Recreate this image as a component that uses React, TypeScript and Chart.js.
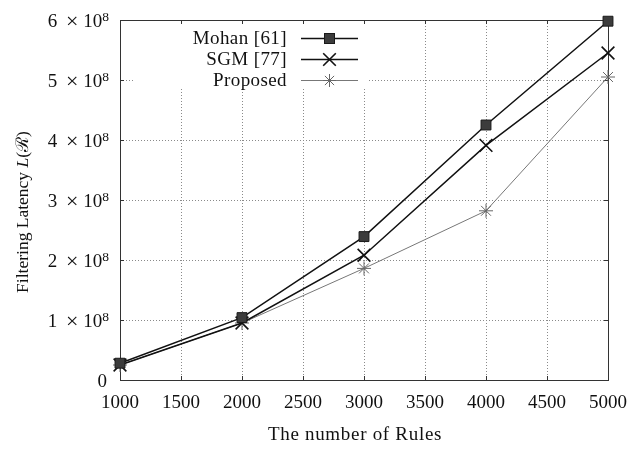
import React, { useEffect, useRef } from "react";
import { Chart, registerables } from "chart.js";

Chart.register(...registerables);

// Number of rules on the x axis
const ruleCounts = [1000, 2000, 3000, 4000, 5000];

// Filtering latency per method
const mohanLatency = [2.8e7, 1.04e8, 2.39e8, 4.25e8, 5.98e8];
const sgmLatency = [2.5e7, 9.5e7, 2.08e8, 3.91e8, 5.45e8];
const proposedLatency = [2.5e7, 9.5e7, 1.86e8, 2.82e8, 5.05e8];

const seriesNames = ["Mohan [61]", "SGM [77]", "Proposed"];

const xAxisTitle = "The number of Rules";
const yAxisTitleParts = ["Filtering Latency ", "L", "(", "\u211B", ")"];

const SERIF = '"Liberation Serif", "DejaVu Serif", serif';
const W = 631;
const H = 450;

type MarkerKind = "square" | "cross" | "star";

function drawMarker(ctx: CanvasRenderingContext2D, kind: MarkerKind, x: number, y: number) {
  ctx.save();
  if (kind === "square") {
    ctx.fillStyle = "#3c3c3c";
    ctx.strokeStyle = "#1a1a1a";
    ctx.lineWidth = 1;
    ctx.fillRect(x - 5, y - 5, 10, 10);
    ctx.strokeRect(x - 5, y - 5, 10, 10);
  } else if (kind === "cross") {
    ctx.strokeStyle = "#111";
    ctx.lineWidth = 1.6;
    const r = 6.3;
    ctx.beginPath();
    ctx.moveTo(x - r, y - r);
    ctx.lineTo(x + r, y + r);
    ctx.moveTo(x - r, y + r);
    ctx.lineTo(x + r, y - r);
    ctx.stroke();
  } else {
    ctx.strokeStyle = "#666";
    ctx.lineWidth = 1;
    const r = 6.5;
    ctx.beginPath();
    for (let i = 0; i < 4; i++) {
      const a = (i * Math.PI) / 4;
      ctx.moveTo(x - r * Math.cos(a), y - r * Math.sin(a));
      ctx.lineTo(x + r * Math.cos(a), y + r * Math.sin(a));
    }
    ctx.stroke();
  }
  ctx.restore();
}

const frame = {
  id: "frame",
  beforeDatasetsDraw(chart: any) {
    const { ctx, chartArea: a, scales } = chart;
    const xs = scales.x;
    const ys = scales.y;
    ctx.save();
    // dotted grid
    ctx.strokeStyle = "#8a8a8a";
    ctx.lineWidth = 1;
    ctx.setLineDash([1, 2]);
    ctx.beginPath();
    xs.ticks.forEach((t: any) => {
      const px = Math.round(xs.getPixelForValue(t.value)) + 0.5;
      ctx.moveTo(px, a.top);
      ctx.lineTo(px, a.bottom);
    });
    ys.ticks.forEach((t: any) => {
      const py = Math.round(ys.getPixelForValue(t.value)) + 0.5;
      ctx.moveTo(a.left, py);
      ctx.lineTo(a.right, py);
    });
    ctx.stroke();
    ctx.setLineDash([]);
    // legend background hides the grid behind it
    ctx.fillStyle = "#fff";
    ctx.fillRect(134, 23, 234, 66);
    // axis box
    ctx.strokeStyle = "#333";
    ctx.lineWidth = 1;
    ctx.strokeRect(Math.round(a.left) + 0.5, Math.round(a.top) + 0.5, Math.round(a.right - a.left), Math.round(a.bottom - a.top));
    // inward tick marks on all four sides
    const tl = 4;
    ctx.beginPath();
    xs.ticks.forEach((t: any) => {
      const px = Math.round(xs.getPixelForValue(t.value)) + 0.5;
      ctx.moveTo(px, a.bottom);
      ctx.lineTo(px, a.bottom - tl);
      ctx.moveTo(px, a.top);
      ctx.lineTo(px, a.top + tl);
    });
    ys.ticks.forEach((t: any) => {
      const py = Math.round(ys.getPixelForValue(t.value)) + 0.5;
      ctx.moveTo(a.left, py);
      ctx.lineTo(a.left + tl, py);
      ctx.moveTo(a.right, py);
      ctx.lineTo(a.right - tl, py);
    });
    ctx.stroke();
    ctx.restore();
  },
  afterDatasetsDraw(chart: any) {
    const { ctx } = chart;
    ctx.save();
    const kinds: MarkerKind[] = ["square", "cross", "star"];
    const lineColors = ["#111", "#111", "#777"];
    const lineWidths = [1.5, 1.5, 1];
    ctx.font = `19px ${SERIF}`;
    (ctx as any).letterSpacing = "0.4px";
    ctx.textAlign = "right";
    ctx.textBaseline = "alphabetic";
    seriesNames.forEach((name, i) => {
      const cy = 38 + i * 21;
      ctx.fillStyle = "#111";
      ctx.fillText(name, 287, cy + 6);
      ctx.strokeStyle = lineColors[i];
      ctx.lineWidth = lineWidths[i];
      ctx.beginPath();
      ctx.moveTo(301, cy + 0.5);
      ctx.lineTo(358, cy + 0.5);
      ctx.stroke();
      drawMarker(ctx, kinds[i], 329.5, cy + 0.5);
    });
    ctx.restore();
  },
  afterDraw(chart: any) {
    const { ctx, scales } = chart;
    const xs = scales.x;
    const ys = scales.y;
    ctx.save();
    ctx.fillStyle = "#111";
    ctx.textBaseline = "alphabetic";
    // x tick labels
    ctx.font = `19px ${SERIF}`;
    ctx.textAlign = "center";
    xs.ticks.forEach((t: any) => {
      ctx.fillText(String(t.value), xs.getPixelForValue(t.value), 408);
    });
    // y tick labels as m × 10^8
    const rightEdge = 109;
    ys.ticks.forEach((t: any) => {
      const py = ys.getPixelForValue(t.value);
      const base = py + 7;
      if (t.value === 0) {
        ctx.font = `19px ${SERIF}`;
        ctx.textAlign = "right";
        ctx.fillText("0", 107, base);
        return;
      }
      const m = Math.round(t.value / 1e8);
      ctx.font = `13.5px ${SERIF}`;
      ctx.textAlign = "right";
      const supW = ctx.measureText("8").width;
      ctx.fillText("8", rightEdge, py + 1);
      ctx.font = `19px ${SERIF}`;
      const tenRight = rightEdge - supW;
      ctx.fillText("10", tenRight, base);
      const tenW = ctx.measureText("10").width;
      const timesCenter = tenRight - tenW - 11;
      ctx.textAlign = "center";
      ctx.font = `22px ${SERIF}`;
      ctx.fillText("\u00D7", timesCenter, base + 0.5);
      ctx.font = `19px ${SERIF}`;
      ctx.textAlign = "right";
      ctx.fillText(String(m), timesCenter - 15, base);
    });
    // x axis title
    ctx.font = `19px ${SERIF}`;
    (ctx as any).letterSpacing = "0.7px";
    ctx.textAlign = "center";
    ctx.fillText(xAxisTitle, 355, 440);
    // y axis title, rotated
    (ctx as any).letterSpacing = "0px";
    const fonts = [`17.5px ${SERIF}`, `italic 17.5px ${SERIF}`, `17.5px ${SERIF}`, `17.5px "DejaVu Serif", ${SERIF}`, `17.5px ${SERIF}`];
    const widths = yAxisTitleParts.map((p, i) => {
      ctx.font = fonts[i];
      return ctx.measureText(p).width;
    });
    const total = widths.reduce((s, w) => s + w, 0);
    ctx.translate(28, 212);
    ctx.rotate(-Math.PI / 2);
    ctx.textAlign = "left";
    let cx = -total / 2;
    yAxisTitleParts.forEach((p, i) => {
      ctx.font = fonts[i];
      ctx.fillText(p, cx, 0);
      cx += widths[i];
    });
    ctx.restore();
  },
};

export default function App() {
  const canvasRef = useRef<HTMLCanvasElement | null>(null);

  useEffect(() => {
    const canvas = canvasRef.current;
    if (!canvas) return;
    const chart = new Chart(canvas, {
      type: "line",
      data: {
        datasets: [
          {
            label: seriesNames[0],
            data: ruleCounts.map((x, i) => ({ x, y: mohanLatency[i] })),
            borderColor: "#111",
            borderWidth: 1.5,
            pointStyle: "rect",
            pointRadius: 7,
            pointBackgroundColor: "#3c3c3c",
            pointBorderColor: "#1a1a1a",
            pointBorderWidth: 1,
            clip: false,
            order: 1,
          },
          {
            label: seriesNames[1],
            data: ruleCounts.map((x, i) => ({ x, y: sgmLatency[i] })),
            borderColor: "#111",
            borderWidth: 1.5,
            pointStyle: "crossRot",
            pointRadius: 9,
            pointBorderColor: "#111",
            pointBorderWidth: 1.6,
            clip: false,
            order: 2,
          },
          {
            label: seriesNames[2],
            data: ruleCounts.map((x, i) => ({ x, y: proposedLatency[i] })),
            borderColor: "#777",
            borderWidth: 1,
            pointStyle: "star",
            pointRadius: 7,
            pointBorderColor: "#666",
            pointBorderWidth: 1,
            clip: false,
            order: 3,
          },
        ],
      },
      options: {
        responsive: false,
        animation: false,
        layout: { padding: { top: 20, right: 23, left: 0, bottom: 0 } },
        plugins: {
          legend: { display: false },
          tooltip: { enabled: false },
        },
        scales: {
          x: {
            type: "linear",
            min: 1000,
            max: 5000,
            ticks: { stepSize: 500, display: false },
            grid: { display: false },
            border: { display: false },
            afterFit: (s: any) => {
              s.height = 70;
            },
          },
          y: {
            type: "linear",
            min: 0,
            max: 6e8,
            ticks: { stepSize: 1e8, display: false },
            grid: { display: false },
            border: { display: false },
            afterFit: (s: any) => {
              s.width = 120;
            },
          },
        },
      },
      plugins: [frame],
    });
    return () => chart.destroy();
  }, []);

  return (
    <div style={{ position: "absolute", left: 0, top: 0, width: W, height: H, background: "#fff" }}>
      <canvas ref={canvasRef} width={W} height={H} style={{ display: "block" }} />
    </div>
  );
}
